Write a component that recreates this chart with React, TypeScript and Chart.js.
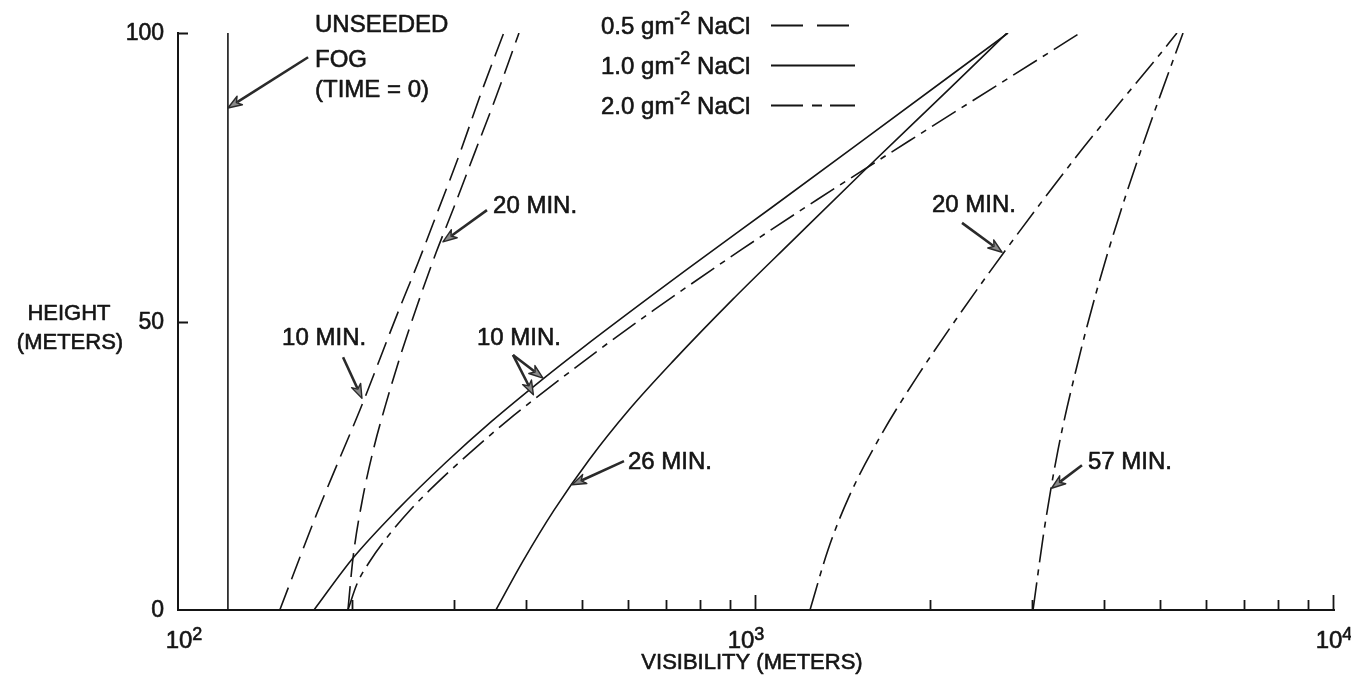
import React, { useEffect, useRef } from 'react';
import { Chart, registerables } from 'chart.js';

Chart.register(...registerables);

const FONT = '"Liberation Sans", Arial, Helvetica, sans-serif';
const INK = '#151515';

// ---------- data (visibility in metres, height in metres) ----------
const UNSEEDED_V = [122, 122];
const UNSEEDED_H = [0, 100];

const NACL05_10MIN_V = [150, 174, 189, 206.5, 240, 260, 282, 307.5, 332, 366];
const NACL05_10MIN_H = [0, 16.8, 25.5, 34.7, 51.5, 60.1, 69.3, 79.2, 88.7, 100];

const NACL05_20MIN_V = [196.8, 200.8, 208.9, 218.3, 228.1, 242.1, 260.2, 279.5, 300.2, 326.5, 354.9, 389];
const NACL05_20MIN_H = [0, 9.0, 19.6, 28.2, 35.2, 43.8, 53.2, 61.9, 69.8, 79.4, 88.9, 100];

const NACL10_10MIN_V = [171.9, 200.8, 239.3, 290.9, 347.9, 429.8, 496.1, 756.5, 1066, 1508, 2729];
const NACL10_10MIN_H = [0, 9.0, 17.3, 25.6, 32.6, 40.2, 45.1, 58.9, 69.8, 80.9, 100];

const NACL10_26MIN_V = [354.9, 395.4, 447.3, 514.1, 603.0, 721.4, 908.8, 1159, 1544, 2149, 2718];
const NACL10_26MIN_H = [0, 8.5, 17.3, 26.0, 34.7, 43.3, 53.7, 64.1, 76.3, 90.1, 100];

const NACL20_10MIN_V = [196.8, 204.0, 214.9, 230.8, 252.0, 284.0, 323.9, 372.4, 415.6, 535.1, 666.2, 941.9, 1275, 2008, 3201, 3636];
const NACL20_10MIN_H = [0, 4.5, 8.5, 12.8, 17.3, 22.5, 27.7, 32.9, 36.7, 45.1, 52.0, 62.4, 71.1, 83.7, 96.5, 100];

const NACL20_20MIN_V = [1240, 1332, 1448, 1639, 1899, 2227, 2686, 3578, 4164, 4941, 5349];
const NACL20_20MIN_H = [0, 10.4, 19.6, 30.0, 40.4, 50.6, 62.0, 78.5, 86.7, 95.7, 100];

const NACL20_57MIN_V = [3015, 3150, 3330, 3578, 3890, 4281, 4767, 5480];
const NACL20_57MIN_H = [0, 13.7, 27.7, 41.6, 55.5, 69.3, 83.2, 100];

// ---------- axes ----------
const X_MIN = 100;
const X_MAX = 10000;
const X_DECADES = [100, 1000, 10000];
const X_DECADE_EXP = ['2', '3', '4'];
const X_MINOR_TICKS = [200, 300, 400, 500, 600, 700, 800, 900, 2000, 3000, 4000, 5000, 6000, 7000, 8000, 9000];
const X_MAJOR_TICKS = [1000, 10000];
const Y_MIN = 0;
const Y_MAX = 100;
const Y_TICKS = [0, 50, 100];
const Y_INNER_TICKS = [50, 100];

const X_TITLE = 'VISIBILITY (METERS)';
const Y_TITLE = ['HEIGHT', '(METERS)'];

// ---------- legend ----------
const LEGEND_LABELS = ['0.5 gm', '1.0 gm', '2.0 gm'];
const LEGEND_SUP = '-2';
const LEGEND_TAIL = ' NaCl';

// ---------- annotations (anchor in data units: visibility, height) ----------
const NOTE_TEXTS = [
  ['UNSEEDED', 'FOG', '(TIME = 0)'],
  ['10 MIN.'],
  ['20 MIN.'],
  ['10 MIN.'],
  ['26 MIN.'],
  ['20 MIN.'],
  ['57 MIN.'],
];
const NOTE_V = [172.6, 151.4, 350.8, 329, 600.5, 2016, 3753];
const NOTE_H = [[101.4, 95.3, 90.1], [47.0], [70.0], [47.0], [25.5], [70.2], [25.5]];

// arrows: [tailV, tailH, tipV, tipH]
const ARROWS = [
  [167.9, 95.8, 122, 87.0],
  [193.0, 43.8, 208.1, 36.7],
  [342.4, 69.3, 287.3, 63.8],
  [379.8, 44.2, 428.0, 40.2],
  [379.8, 44.2, 412.0, 37.3],
  [591, 25.8, 480.5, 21.7],
  [2272, 67.1, 2665, 62.0],
  [3664, 25.1, 3246, 21.1],
];

const DASHED = [24, 9];
const DASH_DOT = [28, 7, 6, 7];

function pts(v: number[], h: number[]) {
  return v.map((x, i) => ({ x, y: h[i] }));
}

function makeDataset(v: number[], h: number[], dash: number[], smooth = true) {
  return {
    data: pts(v, h),
    showLine: true,
    borderColor: INK,
    borderWidth: 1.6,
    borderDash: dash,
    pointRadius: 0,
    pointHoverRadius: 0,
    fill: false,
    tension: smooth ? 0.4 : 0,
    cubicInterpolationMode: smooth ? 'monotone' : 'default',
  };
}

function inkText(ctx: CanvasRenderingContext2D, t: string, x: number, y: number) {
  ctx.fillText(t, x, y);
  ctx.strokeText(t, x, y);
}

function drawRuns(
  ctx: CanvasRenderingContext2D,
  runs: { t: string; sup?: boolean }[],
  x: number,
  y: number,
  align: 'left' | 'center',
  size: number,
  supSize: number,
  rise: number,
) {
  ctx.textAlign = 'left';
  ctx.textBaseline = 'alphabetic';
  const widths = runs.map((r) => {
    ctx.font = `${r.sup ? supSize : size}px ${FONT}`;
    return ctx.measureText(r.t).width;
  });
  const total = widths.reduce((a, b) => a + b, 0);
  let cx = align === 'center' ? x - total / 2 : x;
  runs.forEach((r, i) => {
    ctx.font = `${r.sup ? supSize : size}px ${FONT}`;
    inkText(ctx, r.t, cx, r.sup ? y - rise : y);
    cx += widths[i];
  });
}

function drawArrow(ctx: CanvasRenderingContext2D, x1: number, y1: number, x2: number, y2: number) {
  const ang = Math.atan2(y2 - y1, x2 - x1);
  const headLen = 14;
  const headW = 5;
  const bx = x2 - headLen * Math.cos(ang);
  const by = y2 - headLen * Math.sin(ang);
  ctx.save();
  ctx.setLineDash([]);
  ctx.strokeStyle = '#2a2a2a';
  ctx.lineWidth = 2.6;
  ctx.beginPath();
  ctx.moveTo(x1, y1);
  ctx.lineTo(bx + 3 * Math.cos(ang), by + 3 * Math.sin(ang));
  ctx.stroke();
  ctx.beginPath();
  ctx.moveTo(x2, y2);
  ctx.lineTo(bx + headW * Math.sin(ang), by - headW * Math.cos(ang));
  ctx.lineTo(bx + 4 * Math.cos(ang), by + 4 * Math.sin(ang));
  ctx.lineTo(bx - headW * Math.sin(ang), by + headW * Math.cos(ang));
  ctx.closePath();
  ctx.fillStyle = '#8a8a8a';
  ctx.fill();
  ctx.lineWidth = 1.4;
  ctx.strokeStyle = '#2a2a2a';
  ctx.stroke();
  ctx.restore();
}

const X_LABEL_NUDGE = [6, -10, 0];

const decorPlugin = {
  id: 'decor',
  afterDraw(chart: any) {
    const ctx: CanvasRenderingContext2D = chart.ctx;
    const xs = chart.scales.x;
    const ys = chart.scales.y;
    const { left, right, top, bottom } = chart.chartArea;
    ctx.save();
    ctx.setLineDash([]);
    ctx.strokeStyle = INK;
    ctx.fillStyle = INK;

    // inward tick marks
    ctx.lineWidth = 1.8;
    ctx.beginPath();
    X_MINOR_TICKS.forEach((v) => {
      const px = Math.round(xs.getPixelForValue(v)) + 0.5;
      ctx.moveTo(px, bottom);
      ctx.lineTo(px, bottom - 10);
    });
    X_MAJOR_TICKS.forEach((v) => {
      const px = Math.round(xs.getPixelForValue(v)) - 0.5;
      ctx.moveTo(px, bottom);
      ctx.lineTo(px, bottom - 15);
    });
    Y_INNER_TICKS.forEach((h) => {
      const py = Math.round(ys.getPixelForValue(h)) + 0.5;
      ctx.moveTo(left, py);
      ctx.lineTo(left + 10, py);
    });
    ctx.stroke();

    // text weight
    ctx.lineWidth = 0.6;
    ctx.lineJoin = 'round';

    // y tick labels
    ctx.font = `23px ${FONT}`;
    ctx.textAlign = 'right';
    ctx.textBaseline = 'middle';
    Y_TICKS.forEach((h) => {
      inkText(ctx, String(h), left - 14, ys.getPixelForValue(h) + 1);
    });

    // x decade labels 10^n
    X_DECADES.forEach((v, i) => {
      const px = xs.getPixelForValue(v) + X_LABEL_NUDGE[i];
      drawRuns(ctx, [{ t: '10' }, { t: X_DECADE_EXP[i], sup: true }], px, bottom + 38, 'center', 24, 18, 8);
    });

    // axis titles
    ctx.font = `22px ${FONT}`;
    ctx.textAlign = 'center';
    ctx.textBaseline = 'middle';
    inkText(ctx, X_TITLE, (left + right) / 2 - 4, bottom + 53);
    const cy = (top + bottom) / 2;
    inkText(ctx, Y_TITLE[0], left - 109, cy - 8);
    inkText(ctx, Y_TITLE[1], left - 108, cy + 21);

    // legend
    const legendX = 601;
    const lineX1 = 771;
    const lineX2 = 855;
    const baselines = [34, 74, 114];
    const legendDashes = [[32, 14], [], [32, 9, 10, 8]];
    LEGEND_LABELS.forEach((lab, i) => {
      drawRuns(ctx, [{ t: lab }, { t: LEGEND_SUP, sup: true }, { t: LEGEND_TAIL }], legendX, baselines[i], 'left', 24, 18, 10);
      ctx.save();
      ctx.lineWidth = 1.8;
      ctx.setLineDash(legendDashes[i]);
      ctx.beginPath();
      ctx.moveTo(lineX1, baselines[i] - 8.5);
      ctx.lineTo(lineX2, baselines[i] - 8.5);
      ctx.stroke();
      ctx.restore();
    });

    // annotation texts
    ctx.lineWidth = 0.6;
    ctx.font = `24px ${FONT}`;
    ctx.textAlign = 'left';
    ctx.textBaseline = 'middle';
    NOTE_TEXTS.forEach((lines, i) => {
      const px = xs.getPixelForValue(NOTE_V[i]);
      lines.forEach((t, j) => {
        inkText(ctx, t, px, ys.getPixelForValue(NOTE_H[i][j]));
      });
    });

    // arrows
    ARROWS.forEach(([tv, th, hv, hh]) => {
      drawArrow(ctx, xs.getPixelForValue(tv), ys.getPixelForValue(th), xs.getPixelForValue(hv), ys.getPixelForValue(hh));
    });

    ctx.restore();
  },
};

export default function App() {
  const ref = useRef<HTMLCanvasElement | null>(null);

  useEffect(() => {
    document.body.style.margin = '0';
    document.body.style.background = '#ffffff';
    const canvas = ref.current;
    if (!canvas) return;
    const chart = new Chart(canvas, {
      type: 'scatter',
      data: {
        datasets: [
          makeDataset(UNSEEDED_V, UNSEEDED_H, [], false),
          makeDataset(NACL05_10MIN_V, NACL05_10MIN_H, DASHED),
          makeDataset(NACL05_20MIN_V, NACL05_20MIN_H, DASHED),
          makeDataset(NACL10_10MIN_V, NACL10_10MIN_H, []),
          makeDataset(NACL10_26MIN_V, NACL10_26MIN_H, []),
          makeDataset(NACL20_10MIN_V, NACL20_10MIN_H, DASH_DOT),
          makeDataset(NACL20_20MIN_V, NACL20_20MIN_H, DASH_DOT),
          makeDataset(NACL20_57MIN_V, NACL20_57MIN_H, DASH_DOT),
        ] as any,
      },
      options: {
        responsive: false,
        animation: false,
        devicePixelRatio: 1,
        events: [],
        layout: { padding: { left: 178, right: 17, top: 33, bottom: 75 } },
        plugins: {
          legend: { display: false },
          tooltip: { enabled: false },
        },
        scales: {
          x: {
            type: 'logarithmic',
            min: X_MIN,
            max: X_MAX,
            ticks: { display: false },
            grid: { display: false, drawTicks: false },
            border: { display: true, color: INK, width: 2 },
            afterFit: (s: any) => {
              s.height = 0;
            },
          },
          y: {
            type: 'linear',
            min: Y_MIN,
            max: Y_MAX,
            ticks: { display: false },
            grid: { display: false, drawTicks: false },
            border: { display: true, color: INK, width: 2 },
            afterFit: (s: any) => {
              s.width = 0;
            },
          },
        },
      } as any,
      plugins: [decorPlugin],
    });
    return () => chart.destroy();
  }, []);

  return (
    <div style={{ position: 'absolute', left: 0, top: 0, width: 1351, height: 685, background: '#fff' }}>
      <canvas ref={ref} width={1351} height={685} style={{ display: 'block' }} />
    </div>
  );
}
